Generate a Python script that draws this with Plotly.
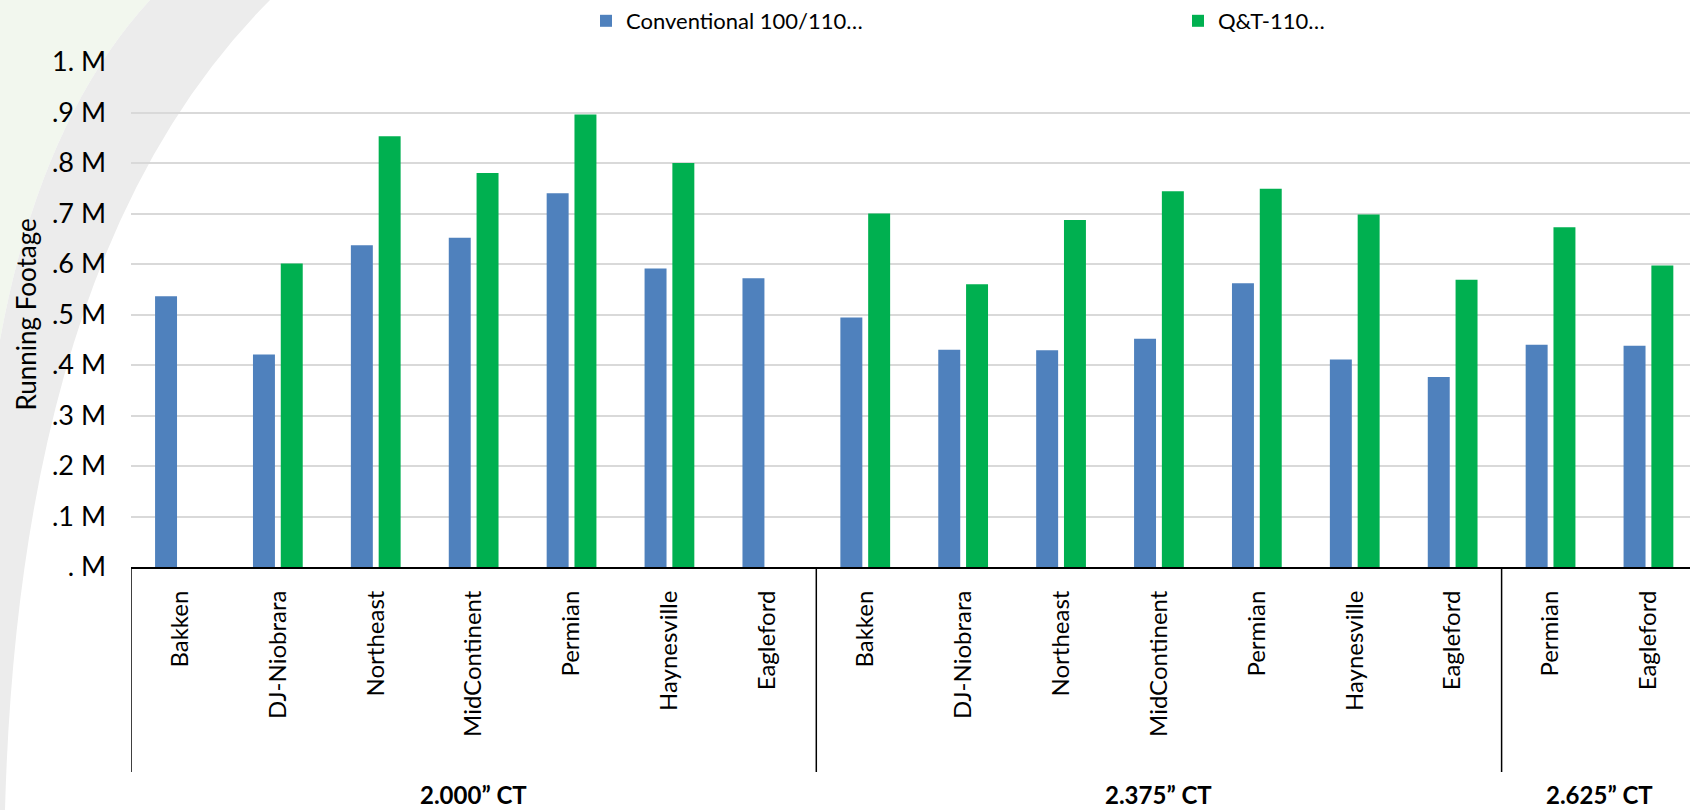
import plotly.graph_objects as go

# Running footage by region, grouped by connection size
groups = ["2.000\u201d CT", "2.375\u201d CT", "2.625\u201d CT"]
group_sizes = [7, 7, 2]
regions = [
    "Bakken", "DJ-Niobrara", "Northeast", "MidContinent", "Permian", "Haynesville", "Eagleford",
    "Bakken", "DJ-Niobrara", "Northeast", "MidContinent", "Permian", "Haynesville", "Eagleford",
    "Permian", "Eagleford",
]
conventional = [
    536000, 421000, 637000, 652000, 740000, 591000, 572000,
    494000, 430000, 429000, 452000, 562000, 411000, 376000,
    440000, 438000,
]
qt110 = [
    None, 601000, 853000, 780000, 896000, 800000, None,
    700000, 560000, 687000, 744000, 749000, 698000, 569000,
    673000, 597000,
]
series_names = ["Conventional 100/110\u2026", "Q&T-110\u2026"]
series_colors = ["#4F81BD", "#00B050"]
y_tickvals = [0, 100000, 200000, 300000, 400000, 500000, 600000, 700000, 800000, 900000, 1000000]
y_ticktext = [". M", ".1 M", ".2 M", ".3 M", ".4 M", ".5 M", ".6 M", ".7 M", ".8 M", ".9 M", "1. M"]

W, H = 1690, 810
ML, MR, MT, MB = 131, 0, 62, 243
PW, PH = W - ML - MR, H - MT - MB
CAT_PX = 97.9  # width of one category slot in pixels
FONT = "Lato, 'Open Sans', sans-serif"

x = list(range(len(regions)))


def px_x(p):
    return (p - ML) / PW


def px_y(p):
    return (H - MB - p) / PH


# each series gets its own one-item legend so the two entries sit far apart
legend_left_px = [586, 1178]
legend_ids = ["legend", "legend2"]

fig = go.Figure()
for name, vals, color, lid in zip(series_names, [conventional, qt110], series_colors, legend_ids):
    fig.add_trace(go.Bar(
        x=x, y=vals, name=name, legend=lid,
        marker=dict(color=color, line=dict(width=0)),
        hoverinfo="y+name",
    ))

# soft slide backdrop: pale green corner and a grey arc band
green_path = (f"M {px_x(0)},{px_y(0)} L {px_x(150)},{px_y(0)} "
              f"Q {px_x(40)},{px_y(120)} {px_x(0)},{px_y(340)} Z")
band_path = (f"M {px_x(150)},{px_y(0)} L {px_x(270)},{px_y(0)} "
             f"Q {px_x(20)},{px_y(250)} {px_x(5)},{px_y(810)} L {px_x(0)},{px_y(810)} "
             f"L {px_x(0)},{px_y(340)} Q {px_x(40)},{px_y(120)} {px_x(150)},{px_y(0)} Z")
shapes = [
    dict(type="path", path=green_path, xref="paper", yref="paper", layer="below",
         fillcolor="#F2F7EE", line=dict(width=0)),
    dict(type="path", path=band_path, xref="paper", yref="paper", layer="below",
         fillcolor="#ECECEC", line=dict(width=0)),
]

# group dividers below the category axis and group labels
divider_bottom = px_y(772)
label_y = px_y(794)
annotations = []
start = 0
bounds = [start - 0.5]
for g, n in zip(groups, group_sizes):
    end = start + n
    bounds.append(end - 0.5)
    annotations.append(dict(
        x=(start + end - 1) / 2, y=label_y, xref="x", yref="paper",
        text=f"<b>{g}</b>", showarrow=False, xanchor="center", yanchor="middle",
        font=dict(family=FONT, size=24, color="black"), borderpad=0,
    ))
    start = end
for b in bounds[:-1]:
    shapes.append(dict(type="line", xref="x", yref="paper", x0=b, x1=b,
                       y0=0, y1=divider_bottom, line=dict(color="black", width=1.5)))

annotations.append(dict(
    x=px_x(25), y=0.5, xref="paper", yref="paper", text="Running Footage",
    textangle=-90, showarrow=False, xanchor="center", yanchor="middle",
    font=dict(family=FONT, size=26, color="black"),
))

legend_style = dict(
    orientation="h", y=px_y(21), xanchor="left", yanchor="middle",
    font=dict(family=FONT, size=22, color="black"), bgcolor="rgba(0,0,0,0)",
    itemclick=False, itemdoubleclick=False,
)

fig.update_layout(
    width=W, height=H,
    margin=dict(l=ML, r=MR, t=MT, b=MB, pad=0),
    paper_bgcolor="white", plot_bgcolor="rgba(0,0,0,0)",
    barmode="group", bargap=0.432, bargroupgap=0.21,
    font=dict(family=FONT, color="black"),
    showlegend=True,
    legend=dict(x=px_x(legend_left_px[0]), **legend_style),
    legend2=dict(x=px_x(legend_left_px[1]), **legend_style),
    xaxis=dict(
        range=[-0.5, -0.5 + PW / CAT_PX], tickmode="array", tickvals=x, ticktext=regions,
        tickangle=-90, ticks="", showgrid=False, zeroline=False,
        showline=True, linecolor="black", linewidth=2,
        tickfont=dict(family=FONT, size=24, color="black"), ticklabelstandoff=12,
        fixedrange=True,
    ),
    yaxis=dict(
        range=[0, 1000000], tickmode="array", tickvals=y_tickvals, ticktext=y_ticktext,
        showgrid=True, gridcolor="#D9D9D9", gridwidth=1.5, zeroline=False, showline=False,
        ticks="", tickfont=dict(family=FONT, size=27, color="black"), ticklabelstandoff=24,
        fixedrange=True,
    ),
    shapes=shapes,
    annotations=annotations,
)

fig.write_html("out.html", config={"displayModeBar": False})
